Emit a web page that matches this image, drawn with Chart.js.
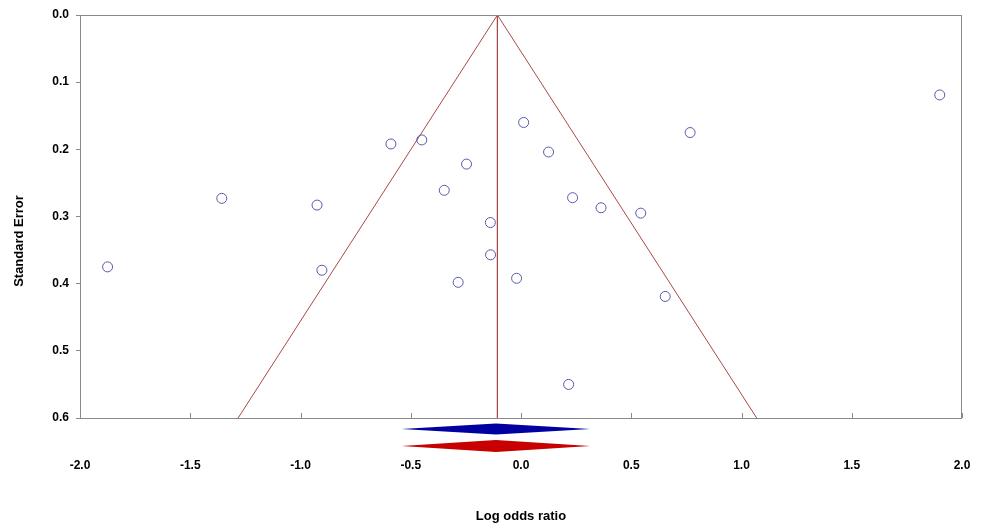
<!DOCTYPE html>
<html>
<head>
<meta charset="utf-8">
<script src="https://cdn.jsdelivr.net/npm/chart.js@4.4.1/dist/chart.umd.min.js"></script>
<style>
  html, body { margin: 0; padding: 0; background: #fff; }
  #wrap { width: 982px; height: 526px; }
</style>
</head>
<body>
<div id="wrap"><canvas id="funnelChart" width="982" height="526"></canvas></div>
<script>
// study effects
const studyLogOR = [-1.875, -1.357, -0.925, -0.903, -0.590, -0.450, -0.247, -0.348, -0.285, -0.139, -0.138,
                    -0.020, 0.012, 0.125, 0.234, 0.363, 0.543, 0.654, 0.767, 0.216, 1.899];
const studySE = [0.375, 0.273, 0.283, 0.380, 0.192, 0.186, 0.222, 0.261, 0.398, 0.309, 0.357,
                 0.392, 0.160, 0.204, 0.272, 0.287, 0.295, 0.419, 0.175, 0.550, 0.119];

// pooled estimate and funnel limits
const pooledLogOR = -0.107;
const funnelMaxSE = 0.6;
const funnelLowAtMax = -1.283;
const funnelHighAtMax = 1.069;

// summary diamonds [low, mid, high]
const fixedDiamond = [-0.542, -0.114, 0.314];
const randomDiamond = [-0.542, -0.114, 0.314];

const xTickValues = [-2.0, -1.5, -1.0, -0.5, 0.0, 0.5, 1.0, 1.5, 2.0];
const yTickValues = [0.0, 0.1, 0.2, 0.3, 0.4, 0.5, 0.6];

const frameGray = '#8a8a8a';
const funnelColor = 'rgb(168,72,72)';

const points = studyLogOR.map((v, i) => ({ x: v, y: studySE[i] }));

const extras = {
    id: 'extras',
    afterDraw(chart) {
        const ctx = chart.ctx;
        const area = chart.chartArea;
        const xs = chart.scales.x;

        ctx.save();
        // box
        ctx.strokeStyle = frameGray;
        ctx.lineWidth = 1;
        ctx.strokeRect(area.left + 0.5, area.top + 0.5, area.right - area.left - 1, area.bottom - area.top);

        // inward x tick marks
        xs.ticks.forEach(t => {
            const px = Math.round(xs.getPixelForValue(t.value)) + 0.5;
            ctx.beginPath();
            ctx.moveTo(px, area.bottom);
            ctx.lineTo(px, area.bottom - 5);
            ctx.stroke();
        });

        // diamonds
        function diamond(d, cy, h, color) {
            const l = xs.getPixelForValue(d[0]);
            const m = xs.getPixelForValue(d[1]);
            const r = xs.getPixelForValue(d[2]);
            ctx.fillStyle = color;
            ctx.beginPath();
            ctx.moveTo(l, cy);
            ctx.lineTo(m, cy - h / 2);
            ctx.lineTo(r, cy);
            ctx.lineTo(m, cy + h / 2);
            ctx.closePath();
            ctx.fill();
        }
        diamond(fixedDiamond, area.bottom + 11, 11, 'rgb(0,0,160)');
        diamond(randomDiamond, area.bottom + 28, 12, 'rgb(200,0,0)');

        // axis titles
        ctx.fillStyle = '#000';
        ctx.font = 'bold 13px "Liberation Sans", Arial, sans-serif';
        ctx.textAlign = 'center';
        ctx.textBaseline = 'middle';
        ctx.fillText('Log odds ratio', (area.left + area.right) / 2, 516);
        ctx.translate(19, 241);
        ctx.rotate(-Math.PI / 2);
        ctx.fillText('Standard Error', 0, 0);
        ctx.restore();
    }
};

new Chart(document.getElementById('funnelChart'), {
    type: 'scatter',
    data: {
        datasets: [
            {
                label: 'Studies',
                data: points,
                pointStyle: 'circle',
                pointRadius: 5,
                pointBorderWidth: 1,
                pointBackgroundColor: 'rgba(255,255,255,0)',
                pointBorderColor: 'rgb(88,88,168)',
                order: 0
            },
            {
                label: 'Lower limit',
                data: [{ x: pooledLogOR, y: 0 }, { x: funnelLowAtMax, y: funnelMaxSE }],
                showLine: true,
                borderColor: funnelColor,
                borderWidth: 1,
                pointRadius: 0,
                order: 1
            },
            {
                label: 'Upper limit',
                data: [{ x: pooledLogOR, y: 0 }, { x: funnelHighAtMax, y: funnelMaxSE }],
                showLine: true,
                borderColor: funnelColor,
                borderWidth: 1,
                pointRadius: 0,
                order: 1
            },
            {
                label: 'Pooled',
                data: [{ x: pooledLogOR, y: 0 }, { x: pooledLogOR, y: funnelMaxSE }],
                showLine: true,
                borderColor: funnelColor,
                borderWidth: 1,
                pointRadius: 0,
                order: 1
            }
        ]
    },
    options: {
        responsive: false,
        devicePixelRatio: 1,
        animation: false,
        layout: { padding: { left: 0, right: 20, top: 15, bottom: 0 } },
        plugins: {
            legend: { display: false },
            tooltip: { enabled: false }
        },
        scales: {
            x: {
                type: 'linear',
                min: -2,
                max: 2,
                afterFit(scale) { scale.height = 108; },
                afterBuildTicks(scale) { scale.ticks = xTickValues.map(v => ({ value: v })); },
                // long invisible tick marks push the labels down below the diamonds
                grid: { drawOnChartArea: false, drawTicks: true, tickLength: 38, color: 'rgba(0,0,0,0)' },
                border: { display: false },
                ticks: {
                    padding: 2,
                    maxRotation: 0,
                    color: '#000',
                    font: { family: '"Liberation Sans", Arial, sans-serif', size: 12, weight: 'bold' },
                    callback: v => v.toFixed(1)
                }
            },
            y: {
                type: 'linear',
                reverse: true,
                min: 0,
                max: 0.6,
                afterFit(scale) { scale.width = 80; },
                afterBuildTicks(scale) { scale.ticks = yTickValues.map(v => ({ value: v })); },
                grid: { drawOnChartArea: false, drawTicks: true, tickLength: 4, color: frameGray },
                border: { display: false },
                ticks: {
                    padding: 7,
                    color: '#000',
                    font: { family: '"Liberation Sans", Arial, sans-serif', size: 12, weight: 'bold' },
                    callback: v => v.toFixed(1)
                }
            }
        }
    },
    plugins: [extras]
});
</script>
</body>
</html>
